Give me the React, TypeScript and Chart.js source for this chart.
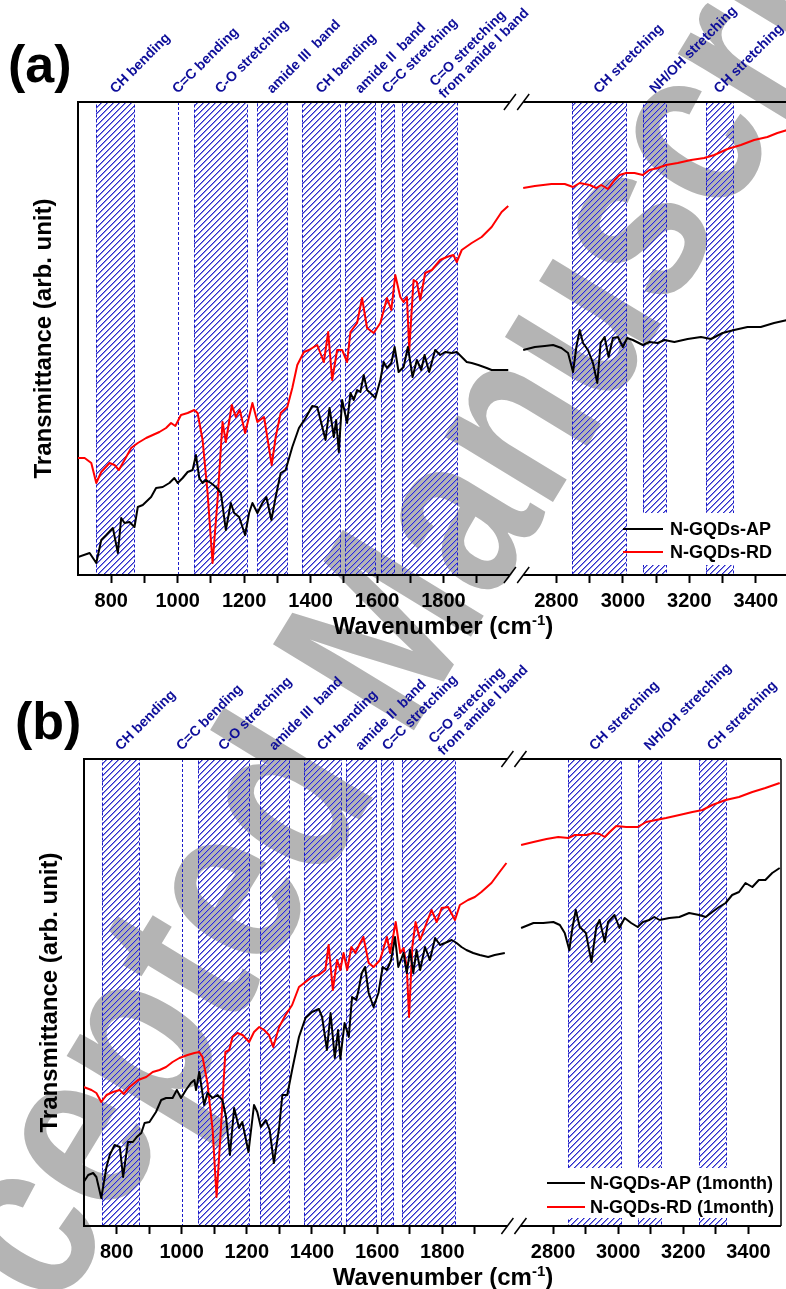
import React, { useEffect, useRef } from 'react';
import { Chart, registerables } from 'chart.js';

Chart.register(...registerables);

// ---------------- data ----------------
const xMajorTicks = [800, 1000, 1200, 1400, 1600, 1800, 2800, 3000, 3200, 3400];
const xMinorTicks = [900, 1100, 1300, 1500, 1700, 1900, 2900, 3100, 3300];

const bandStart = [755, 1000, 1050, 1240, 1375, 1505, 1613, 1675, 2846, 3062, 3249];
const bandEnd = [870, 1000, 1208, 1330, 1490, 1595, 1650, 1840, 3010, 3131, 3331];
const bandLabels = [
  ['CH bending'],
  ['C=C bending'],
  ['C-O stretching'],
  ['amide III  band'],
  ['CH bending'],
  ['amide II  band'],
  ['C=C stretching'],
  ['C=O stretching', 'from amide I band'],
  ['CH stretching'],
  ['NH/OH stretching'],
  ['CH stretching'],
];

// Panel (a): N-GQDs-AP
const apA_wn = [700,735,755,770,785,805,820,830,840,855,870,880,895,920,935,955,975,990,1000,1015,1030,1045,1055,1065,1075,1085,1100,1115,1130,1145,1160,1170,1185,1203,1215,1225,1240,1255,1267,1282,1295,1310,1325,1345,1365,1385,1405,1420,1430,1445,1457,1470,1477,1485,1495,1510,1520,1530,1540,1550,1560,1570,1580,1595,1610,1620,1630,1643,1653,1665,1680,1693,1707,1720,1733,1743,1757,1775,1790,1805,1825,1840,1855,1870,1885,1905,1930,1945,1965,1995,
  2700,2735,2765,2790,2815,2835,2850,2860,2870,2880,2895,2910,2923,2933,2945,2957,2970,2985,3000,3013,3030,3060,3080,3105,3125,3155,3195,3235,3265,3300,3335,3375,3415,3455,3495];
const apA_T = [18,22,12,35,40,47,22,57,52,53,48,68,70,78,87,88,92,97,92,97,103,105,120,97,92,95,92,88,82,45,72,62,58,40,62,72,62,72,78,55,78,102,105,128,147,157,169,168,155,135,167,138,155,123,175,152,182,175,185,183,200,185,182,177,195,213,207,212,228,203,208,228,198,215,205,220,203,225,220,223,222,223,218,213,212,210,207,205,205,205,
  225,228,229,230,227,222,203,228,245,232,225,212,192,232,238,218,237,238,228,237,235,230,233,232,235,233,236,238,236,242,245,248,248,252,255];

// Panel (a): N-GQDs-RD
const rdA_wn = [700,720,740,755,770,795,810,823,840,860,880,905,925,945,965,980,993,1010,1030,1050,1060,1075,1090,1105,1120,1135,1145,1163,1175,1187,1203,1225,1240,1260,1283,1295,1310,1330,1345,1360,1380,1395,1420,1440,1453,1465,1480,1495,1510,1520,1540,1555,1570,1590,1610,1630,1643,1655,1670,1680,1690,1697,1710,1720,1730,1745,1765,1790,1810,1830,1840,1855,1885,1915,1945,1975,1995,
  2700,2735,2785,2825,2850,2870,2900,2920,2935,2955,2975,2990,3010,3035,3060,3080,3105,3130,3165,3205,3245,3275,3315,3355,3395,3435,3465,3495];
const rdA_T = [117,117,112,92,103,112,110,105,115,127,132,137,140,143,147,152,149,160,162,165,162,135,82,12,75,153,133,170,158,165,142,172,153,158,110,138,162,168,187,210,223,225,230,213,243,195,225,225,213,243,252,277,247,242,252,277,265,300,278,273,278,225,295,293,275,302,305,315,318,320,313,325,332,338,348,363,369,
  387,389,391,391,388,392,390,387,390,386,395,400,402,402,400,405,407,410,412,415,417,420,426,430,435,438,442,445];

// Panel (b): N-GQDs-AP (1month)
const apB_wn = [699,713,728,738,753,769,779,794,810,820,835,850,862,876,886,901,921,937,952,972,985,998,1013,1028,1039,1044,1054,1069,1079,1095,1110,1125,1136,1148,1161,1176,1186,1205,1222,1232,1243,1258,1270,1283,1299,1309,1324,1339,1360,1380,1400,1421,1431,1446,1457,1470,1480,1487,1500,1513,1523,1536,1543,1553,1563,1574,1589,1604,1617,1630,1643,1655,1665,1681,1691,1701,1711,1721,1732,1747,1762,1778,1793,1808,1829,1844,1859,1874,1895,1915,1941,1961,1992,
  2702,2740,2770,2801,2821,2836,2850,2860,2870,2882,2901,2918,2933,2943,2959,2969,2989,3004,3020,3040,3060,3076,3096,3111,3127,3157,3188,3218,3249,3269,3289,3310,3330,3350,3371,3391,3412,3432,3452,3473,3496];
const apB_T = [44,51,53,49,28,59,71,81,79,49,84,84,89,93,103,104,114,126,128,128,136,128,136,143,146,136,154,121,133,128,131,126,109,71,118,98,104,74,121,114,99,106,96,63,98,131,131,156,189,208,214,217,209,176,213,168,196,167,203,189,229,226,236,253,259,233,219,233,259,256,266,289,259,273,253,276,253,276,256,279,266,288,281,283,286,283,279,276,273,271,269,271,273,
  298,303,303,304,301,293,276,299,316,299,293,264,299,306,284,304,311,298,308,303,299,304,306,309,306,308,309,313,311,309,314,319,323,331,334,343,339,346,346,353,358];

// Panel (b): N-GQDs-RD (1month)
const rdB_wn = [699,723,738,753,769,789,810,822,840,866,891,911,932,952,972,993,1018,1039,1054,1064,1079,1095,1107,1120,1134,1146,1156,1171,1187,1207,1222,1238,1253,1268,1281,1299,1319,1339,1360,1380,1400,1421,1441,1451,1464,1477,1487,1497,1508,1521,1533,1548,1558,1574,1589,1609,1630,1640,1657,1671,1681,1691,1698,1708,1718,1732,1747,1767,1783,1798,1818,1839,1854,1879,1900,1920,1951,1976,1997,
  2702,2740,2780,2816,2847,2867,2903,2923,2943,2959,2974,2994,3025,3060,3086,3116,3147,3188,3228,3259,3289,3330,3371,3412,3452,3496];
const rdB_T = [139,136,133,124,131,134,136,132,139,146,149,154,156,159,164,168,171,173,174,169,143,96,29,96,174,176,189,193,191,184,194,199,196,191,179,199,211,221,239,244,249,251,256,281,236,266,256,273,256,279,273,283,289,263,259,266,289,273,304,273,278,259,209,279,304,286,299,316,304,318,319,306,321,326,329,334,343,354,363,
  381,384,387,389,388,391,391,393,392,389,394,400,399,399,404,406,408,411,414,416,421,426,429,434,438,443];

const WATERMARK = 'Accepted Manuscript';

// ---------------- axis break ----------------
const GAP_START = 2000;
const GAP_END = 2700;
const GAP_WIDTH = 40;
const X_MIN = 700;
const X_MAX = 3500;
const toAxis = (w: number) => (w <= GAP_START ? w : w - GAP_END + GAP_START + GAP_WIDTH);
const fromAxis = (v: number) => (v <= GAP_START ? v : v + GAP_END - GAP_START - GAP_WIDTH);

function buildSeries(wn: number[], T: number[]) {
  const pts: { x: number; y: number | null }[] = [];
  for (let i = 0; i < wn.length; i++) {
    if (i > 0 && wn[i - 1] <= GAP_START && wn[i] >= GAP_END) {
      pts.push({ x: GAP_START + GAP_WIDTH / 2, y: null });
    }
    pts.push({ x: toAxis(wn[i]), y: T[i] });
  }
  return pts;
}

// ---------------- styling ----------------
const FONT = '"Liberation Sans", Arial, Helvetica, sans-serif';
const BAND_EDGE = '#1c1cc8';
const HATCH_RGB = [0x2c, 0x2c, 0xcc];
const HATCH_SOFT_RGB = [0x8a, 0x8a, 0xe2];
const LABEL_BLUE = '#0e0e9a';

type PanelCfg = {
  letter: string;
  top: number;
  width: number;
  height: number;
  padding: { left: number; right: number; top: number; bottom: number };
  yMax: number;
  apLabel: string;
  rdLabel: string;
  ap: { x: number; y: number | null }[];
  rd: { x: number; y: number | null }[];
  letterPos: [number, number];
  legend: { x: number; y: number; w: number; h: number; lineX1: number; lineX2: number; textX: number; rows: [number, number] };
  drawRight: boolean;
};

function makeHatch(ctx: CanvasRenderingContext2D): CanvasPattern | string {
  const s = 6;
  const tile = document.createElement('canvas');
  tile.width = s;
  tile.height = s;
  const c = tile.getContext('2d');
  if (!c) return '#3030d4';
  const img = c.createImageData(s, s);
  const put = (x: number, y: number, rgb: number[]) => {
    const i = (y * s + x) * 4;
    img.data[i] = rgb[0];
    img.data[i + 1] = rgb[1];
    img.data[i + 2] = rgb[2];
    img.data[i + 3] = 255;
  };
  for (let y = 0; y < s; y++) {
    put(s - 1 - y, y, HATCH_RGB);
    put((s - y) % s, y, HATCH_SOFT_RGB);
  }
  c.putImageData(img, 0, 0);
  return ctx.createPattern(tile, 'repeat') || '#3030d4';
}

function makeDecor(cfg: PanelCfg) {
  return {
    id: 'decor',
    beforeDatasetsDraw(chart: any) {
      const { ctx, chartArea: ca } = chart;
      const x = chart.scales.x;
      const top = Math.round(ca.top);
      const bottom = Math.round(ca.bottom);
      const h = bottom - top;
      const pattern = makeHatch(ctx);
      ctx.save();
      for (let i = 0; i < bandStart.length; i++) {
        const x1 = Math.round(x.getPixelForValue(toAxis(bandStart[i])));
        const x2 = Math.round(x.getPixelForValue(toAxis(bandEnd[i])));
        if (x1 !== x2) {
          ctx.fillStyle = pattern;
          ctx.fillRect(x1, top, x2 - x1, h);
        }
        ctx.setLineDash([3, 2]);
        ctx.lineWidth = 1;
        ctx.strokeStyle = BAND_EDGE;
        if (x1 === x2) {
          ctx.beginPath();
          ctx.moveTo(x1 + 0.5, top);
          ctx.lineTo(x1 + 0.5, bottom);
          ctx.stroke();
        } else {
          ctx.strokeRect(x1 + 0.5, top + 0.5, x2 - x1, h - 1);
        }
      }
      ctx.restore();
    },
    afterDatasetsDraw(chart: any) {
      const { ctx, chartArea: ca } = chart;
      const x = chart.scales.x;
      ctx.save();
      ctx.setLineDash([]);

      // legend
      const lg = cfg.legend;
      ctx.fillStyle = '#ffffff';
      ctx.fillRect(lg.x, lg.y, lg.w, lg.h);
      chart.data.datasets.forEach((ds: any, i: number) => {
        const yy = lg.rows[i];
        ctx.strokeStyle = ds.borderColor;
        ctx.lineWidth = 2;
        ctx.beginPath();
        ctx.moveTo(lg.lineX1, yy);
        ctx.lineTo(lg.lineX2, yy);
        ctx.stroke();
        ctx.fillStyle = '#000';
        ctx.font = `bold 18px ${FONT}`;
        ctx.textBaseline = 'middle';
        ctx.textAlign = 'left';
        ctx.fillText(ds.label, lg.textX, yy + 1);
      });

      // broken frame
      const xb1 = x.getPixelForValue(GAP_START);
      const xb2 = x.getPixelForValue(GAP_START + GAP_WIDTH);
      ctx.strokeStyle = '#000';
      ctx.lineWidth = 2;
      for (const yy of [ca.top, ca.bottom]) {
        ctx.beginPath();
        ctx.moveTo(ca.left, yy);
        ctx.lineTo(xb1, yy);
        ctx.moveTo(xb2, yy);
        ctx.lineTo(ca.right, yy);
        ctx.stroke();
      }
      if (cfg.drawRight) {
        ctx.lineWidth = 1.5;
        ctx.beginPath();
        ctx.moveTo(ca.right, ca.top);
        ctx.lineTo(ca.right, ca.bottom);
        ctx.stroke();
      }
      ctx.lineWidth = 1.5;
      for (const yy of [ca.top, ca.bottom]) {
        for (const xc of [xb1, xb2]) {
          ctx.beginPath();
          ctx.moveTo(xc - 6, yy + 8);
          ctx.lineTo(xc + 6, yy - 8);
          ctx.stroke();
        }
      }

      // band labels
      ctx.fillStyle = LABEL_BLUE;
      ctx.font = `bold 14px ${FONT}`;
      ctx.textAlign = 'left';
      ctx.textBaseline = 'alphabetic';
      for (let i = 0; i < bandStart.length; i++) {
        const cx = (x.getPixelForValue(toAxis(bandStart[i])) + x.getPixelForValue(toAxis(bandEnd[i]))) / 2;
        const lines = bandLabels[i];
        ctx.save();
        ctx.translate(cx, ca.top - 8);
        ctx.rotate(-Math.PI / 4);
        if (lines.length === 1) {
          ctx.fillText(lines[0], 0, 0);
        } else {
          ctx.fillText(lines[0], 9, -1);
          ctx.fillText(lines[1], 7, 14);
        }
        ctx.restore();
      }

      // panel letter
      ctx.fillStyle = '#000';
      ctx.font = `bold 52px ${FONT}`;
      ctx.textAlign = 'left';
      ctx.textBaseline = 'alphabetic';
      ctx.fillText(cfg.letter, cfg.letterPos[0], cfg.letterPos[1]);

      // x title with superscript
      const base = ca.bottom + 59;
      const cxTitle = 443;
      const big = `bold 24px ${FONT}`;
      const small = `bold 15px ${FONT}`;
      ctx.font = big;
      const t1 = 'Wavenumber (cm';
      const t2 = ')';
      const w1 = ctx.measureText(t1).width;
      const w2 = ctx.measureText(t2).width;
      ctx.font = small;
      const ws = ctx.measureText('-1').width;
      const x0 = cxTitle - (w1 + ws + w2) / 2;
      ctx.font = big;
      ctx.fillText(t1, x0, base);
      ctx.font = small;
      ctx.fillText('-1', x0 + w1, base - 9);
      ctx.font = big;
      ctx.fillText(t2, x0 + w1 + ws, base);

      // y title
      ctx.save();
      ctx.translate(ca.left - 34, (ca.top + ca.bottom) / 2);
      ctx.rotate(-Math.PI / 2);
      ctx.font = `bold 24px ${FONT}`;
      ctx.textAlign = 'center';
      ctx.textBaseline = 'middle';
      ctx.fillText('Transmittance (arb. unit)', 0, 0);
      ctx.restore();

      ctx.restore();
    },
  };
}

const allTicks = [...xMajorTicks, ...xMinorTicks].sort((a, b) => a - b);

function Panel({ cfg }: { cfg: PanelCfg }) {
  const ref = useRef<HTMLCanvasElement>(null);
  useEffect(() => {
    if (!ref.current) return;
    const chart = new Chart(ref.current, {
      type: 'line',
      data: {
        datasets: [
          {
            label: cfg.apLabel,
            data: cfg.ap as any,
            borderColor: '#000000',
            backgroundColor: '#000000',
            borderWidth: 2,
            pointRadius: 0,
            tension: 0,
            borderJoinStyle: 'round',
            spanGaps: false,
          },
          {
            label: cfg.rdLabel,
            data: cfg.rd as any,
            borderColor: '#ff0000',
            backgroundColor: '#ff0000',
            borderWidth: 2,
            pointRadius: 0,
            tension: 0,
            borderJoinStyle: 'round',
            spanGaps: false,
          },
        ],
      },
      options: {
        animation: false,
        responsive: false,
        devicePixelRatio: 1,
        parsing: false as any,
        normalized: true,
        layout: { padding: cfg.padding },
        plugins: {
          legend: { display: false },
          tooltip: { enabled: false },
        },
        scales: {
          x: {
            type: 'linear',
            min: X_MIN,
            max: toAxis(X_MAX),
            afterBuildTicks: (s: any) => {
              s.ticks = allTicks.map((w) => ({ value: toAxis(w) }));
            },
            afterFit: (s: any) => {
              s.height = 40;
            },
            ticks: {
              autoSkip: false,
              maxRotation: 0,
              minRotation: 0,
              padding: 6,
              color: '#000',
              font: { family: FONT, size: 20, weight: 'bold' },
              callback: (v: any) => {
                const w = Math.round(fromAxis(Number(v)));
                return xMajorTicks.includes(w) ? String(w) : '';
              },
            },
            grid: {
              display: true,
              drawOnChartArea: false,
              drawTicks: true,
              tickLength: 8,
              tickColor: '#000',
              tickWidth: 2,
            },
            border: { display: false },
          },
          y: {
            type: 'linear',
            min: 0,
            max: cfg.yMax,
            afterFit: (s: any) => {
              s.width = 0;
            },
            ticks: { display: false },
            grid: { display: false, drawTicks: false },
            border: { display: true, color: '#000', width: 2 },
          },
        },
      },
      plugins: [makeDecor(cfg)],
    } as any);
    return () => chart.destroy();
  }, [cfg]);
  return (
    <canvas
      ref={ref}
      width={cfg.width}
      height={cfg.height}
      style={{ position: 'absolute', left: 0, top: cfg.top, width: cfg.width, height: cfg.height }}
    />
  );
}

function Watermark() {
  const ref = useRef<HTMLCanvasElement>(null);
  useEffect(() => {
    const cv = ref.current;
    if (!cv) return;
    const ctx = cv.getContext('2d');
    if (!ctx) return;
    ctx.clearRect(0, 0, cv.width, cv.height);
    const F = 240;
    const SX = 0.8;
    ctx.font = `bold ${F}px ${FONT}`;
    const len = Math.hypot(786, 1289);
    const d = [786 / len, -1289 / len];
    const n = [1289 / len, 786 / len];
    const wBefore = ctx.measureText('Accepted M').width * SX;
    const wa = ctx.measureText('a').width * SX;
    const s0 = 893 - (wBefore + wa / 2);
    const off = 0.26 * F;
    const bx = 0 + d[0] * s0 + n[0] * off;
    const by = 1289 + d[1] * s0 + n[1] * off;
    ctx.save();
    ctx.translate(bx, by);
    ctx.rotate(Math.atan2(d[1], d[0]));
    ctx.scale(SX, 1);
    ctx.fillStyle = '#b4b4b4';
    ctx.textBaseline = 'alphabetic';
    ctx.fillText(WATERMARK, 0, 0);
    ctx.restore();
  }, []);
  return (
    <canvas ref={ref} width={786} height={1289} style={{ position: 'absolute', left: 0, top: 0, width: 786, height: 1289 }} />
  );
}

const panelA: PanelCfg = {
  letter: '(a)',
  top: 0,
  width: 800,
  height: 645,
  padding: { left: 78, right: 11, top: 102, bottom: 30 },
  yMax: 473,
  apLabel: 'N-GQDs-AP',
  rdLabel: 'N-GQDs-RD',
  ap: buildSeries(apA_wn, apA_T),
  rd: buildSeries(rdA_wn, rdA_T),
  letterPos: [8, 82],
  legend: { x: 627, y: 513, w: 173, h: 52, lineX1: 623, lineX2: 663, textX: 670, rows: [529, 552] },
  drawRight: true,
};

const panelB: PanelCfg = {
  letter: '(b)',
  top: 650,
  width: 786,
  height: 639,
  padding: { left: 84, right: 5, top: 109, bottom: 23 },
  yMax: 467,
  apLabel: 'N-GQDs-AP (1month)',
  rdLabel: 'N-GQDs-RD (1month)',
  ap: buildSeries(apB_wn, apB_T),
  rd: buildSeries(rdB_wn, rdB_T),
  letterPos: [15, 89],
  legend: { x: 545, y: 518, w: 236, h: 50, lineX1: 547, lineX2: 585, textX: 590, rows: [533, 557] },
  drawRight: true,
};

export default function App() {
  return (
    <div
      style={{
        position: 'absolute',
        left: 0,
        top: 0,
        width: 786,
        height: 1289,
        overflow: 'hidden',
        background: '#ffffff',
      }}
    >
      <Watermark />
      <Panel cfg={panelA} />
      <Panel cfg={panelB} />
    </div>
  );
}
